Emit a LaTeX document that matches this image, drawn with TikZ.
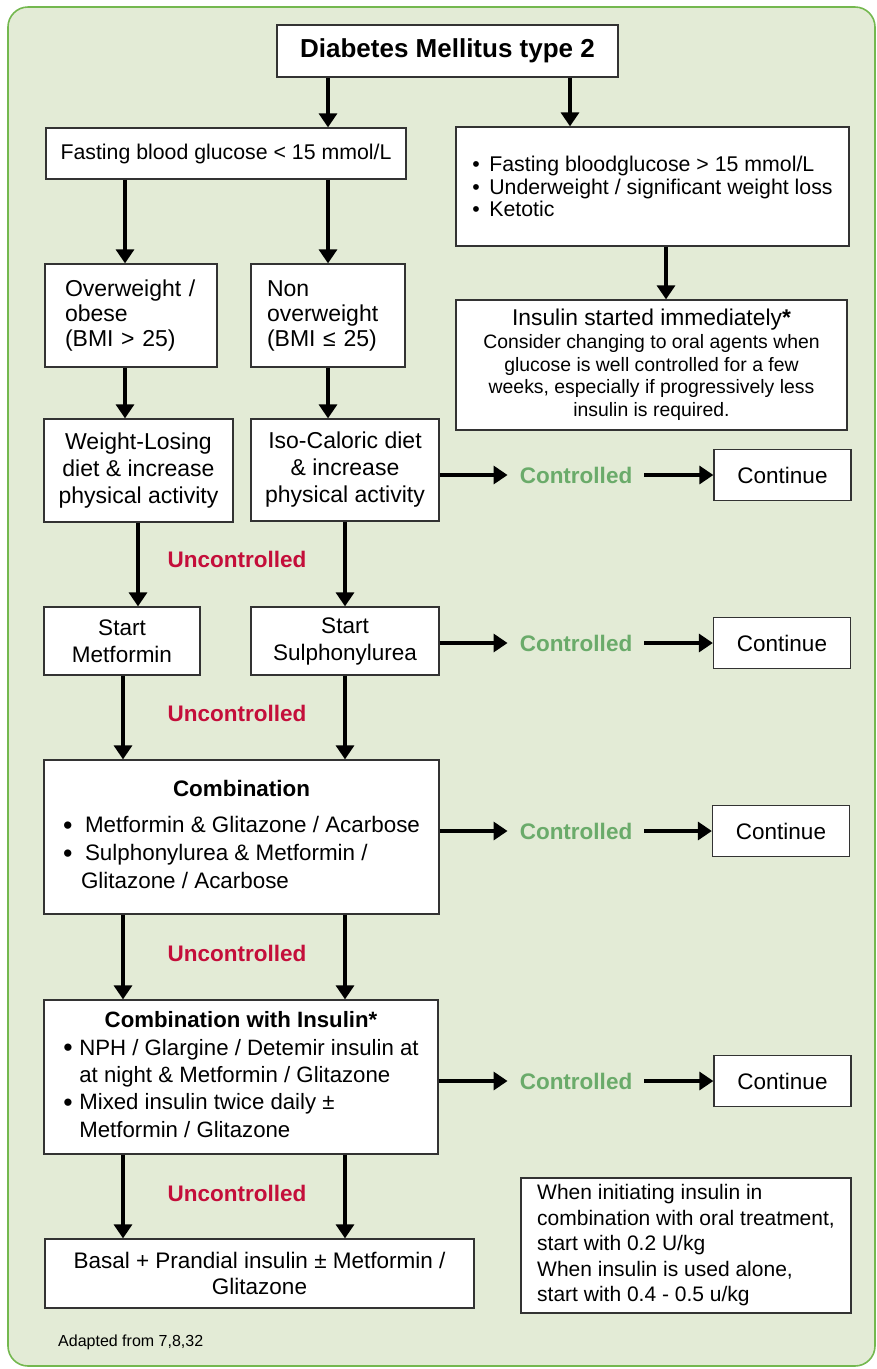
\documentclass[tikz,border=0pt]{standalone}
\usepackage{fontspec}
\setmainfont{Liberation Sans}
\usetikzlibrary{arrows.meta}

\definecolor{panelfill}{HTML}{E3EBD6}
\definecolor{panelline}{HTML}{74B84F}
\definecolor{ctlgreen}{HTML}{6AAB6A}
\definecolor{unctlred}{HTML}{C40E3A}

\newcommand{\fs}[2]{\fontsize{#1}{#2}\selectfont}
\newcommand{\bul}[1][19pt]{\makebox[#1][l]{\raisebox{-0.12ex}{\scalebox{1.2}{\textbullet}}}}
\newcommand{\sbul}[1][17pt]{\makebox[#1][l]{\textbullet}}

\tikzstyle{panel}=[draw=panelline, fill=panelfill, line width=1.6pt, rounded corners=20pt]
\tikzstyle{box}=[draw=black!80, line width=1.3pt, fill=white, inner sep=0pt, align=center, font=\fs{22.5}{27}]
\tikzstyle{lbox}=[box, align=left]
\tikzstyle{cont}=[box, minimum width=137pt, minimum height=51pt]
\tikzstyle{ctl}=[inner xsep=12pt, inner ysep=0pt, text=ctlgreen, font=\fs{22.5}{27}\bfseries]
\tikzstyle{unctl}=[inner sep=0pt, text=unctlred, font=\fs{22.5}{27}\bfseries]
\tikzstyle{arr}=[line width=3.3pt, -{Triangle[length=14pt, width=18pt]}]

\begin{document}
\begin{tikzpicture}[x=1pt, y=-1pt]
    \useasboundingbox (0,0) rectangle (877,1369);
    \draw[panel] (8,7) rectangle (875,1366);

    % columns of the vertical connectors
    \coordinate (xOver)   at (125,0);
    \coordinate (xLeft)   at (123,0);
    \coordinate (xWeight) at (138,0);
    \coordinate (xMid)    at (328,0);
    \coordinate (xRight)  at (345,0);
    \coordinate (xHigh)   at (570,0);
    \coordinate (xIns)    at (666,0);

    \node[box, minimum width=341pt, minimum height=52pt, font=\fs{26}{30}\bfseries] (title) at (447.5,51) {Diabetes Mellitus type 2};
    \node[box, minimum width=360pt, minimum height=51pt, font=\fs{21.3}{25}] (fbgLow) at (226,153.5) {Fasting blood glucose < 15 mmol/L};
    \node[lbox, minimum width=393pt, minimum height=119pt, font=\fs{21.3}{22.6}] (fbgHigh) at (652.5,186.5)
        {\sbul Fasting bloodglucose > 15 mmol/L\\ \sbul Underweight / significant weight loss\\ \sbul Ketotic};

    \node[lbox, minimum width=172pt, minimum height=103pt, text width=132pt, font=\fs{23}{25}] (over) at (131,315.5) {Overweight /\\obese\\(BMI > 25)};
    \node[lbox, minimum width=154pt, minimum height=103pt, text width=122pt, font=\fs{23}{25}] (nonover) at (328,315.5) {Non\\overweight\\(BMI ≤ 25)};
    \node[box, minimum width=391pt, minimum height=130pt, font=\fs{19.4}{22.7}] (insulin) at (651.5,365)
        {{\fs{22.8}{22.7}Insulin started immediately\textbf{*}}\\Consider changing to oral agents when\\glucose is well controlled for a few\\weeks, especially if progressively less\\insulin is required.};

    \node[box, minimum width=189pt, minimum height=103pt, font=\fs{23}{27}] (weight) at (138.5,470.5) {Weight-Losing\\diet \& increase\\physical activity};
    \node[box, minimum width=188pt, minimum height=102pt, font=\fs{23}{27}] (iso) at (345,470) {Iso-Caloric diet\\\& increase\\physical activity};
    \node[ctl] (ctlA) at (576,475) {Controlled};
    \node[cont] (contA) at (782.5,475) {Continue};
    \node[unctl] (uncA) at (237,559) {Uncontrolled};

    \node[box, minimum width=156pt, minimum height=68pt] (metf) at (122,641) {Start\\Metformin};
    \node[box, minimum width=188pt, minimum height=68pt] (sulph) at (345,641) {Start\\Sulphonylurea};
    \node[ctl] (ctlB) at (576,643) {Controlled};
    \node[cont] (contB) at (782,643) {Continue};
    \node[unctl] (uncB) at (237,713) {Uncontrolled};

    \node[box, minimum width=395pt, minimum height=154pt, font=\fs{22.4}{28}] (comb) at (241.5,837)
        {\begin{tabular}{@{}l@{}}
            \multicolumn{1}{c}{\textbf{Combination}}\\[8pt]
            \bul[22pt]Metformin \& Glitazone / Acarbose\\
            \bul[22pt]Sulphonylurea \& Metformin /\\
            \hspace*{18pt}Glitazone / Acarbose
        \end{tabular}};
    \node[ctl] (ctlC) at (576,831) {Controlled};
    \node[cont] (contC) at (781,831) {Continue};
    \node[unctl] (uncC) at (237,953) {Uncontrolled};

    \node[box, minimum width=394pt, minimum height=154pt, font=\fs{22.2}{27.3}] (combIns) at (241,1077)
        {\begin{tabular}{@{}l@{}}
            \multicolumn{1}{c}{\textbf{Combination with Insulin*}}\\
            \bul[16pt]NPH / Glargine / Detemir insulin at\\
            \hspace*{16pt}at night \& Metformin / Glitazone\\
            \bul[16pt]Mixed insulin twice daily ±\\
            \hspace*{16pt}Metformin / Glitazone
        \end{tabular}};
    \node[ctl] (ctlD) at (576,1081) {Controlled};
    \node[cont] (contD) at (782.5,1081) {Continue};
    \node[unctl] (uncD) at (237,1193) {Uncontrolled};

    \node[box, minimum width=429pt, minimum height=69pt, font=\fs{22.5}{26}] (basal) at (259.5,1273.5) {Basal + Prandial insulin ± Metformin /\\Glitazone};
    \node[lbox, minimum width=330pt, minimum height=135pt, font=\fs{21}{25.5}] (note) at (686,1245.5)
        {When initiating insulin in\\combination with oral treatment,\\start with 0.2 U/kg\\When insulin is used alone,\\start with 0.4 - 0.5 u/kg};
    \node[anchor=west, inner sep=0pt, font=\fs{16}{19}] (source) at (58,1342) {Adapted from 7,8,32};

    % vertical connectors
    \draw[arr] (title.south -| xMid) -- (fbgLow.north -| xMid);
    \draw[arr] (title.south -| xHigh) -- (fbgHigh.north -| xHigh);
    \draw[arr] (fbgLow.south -| xOver) -- (over.north -| xOver);
    \draw[arr] (fbgLow.south -| xMid) -- (nonover.north -| xMid);
    \draw[arr] (fbgHigh.south -| xIns) -- (insulin.north -| xIns);
    \draw[arr] (over.south -| xOver) -- (weight.north -| xOver);
    \draw[arr] (nonover.south -| xMid) -- (iso.north -| xMid);
    \draw[arr] (weight.south -| xWeight) -- (metf.north -| xWeight);
    \draw[arr] (iso.south -| xRight) -- (sulph.north -| xRight);
    \draw[arr] (metf.south -| xLeft) -- (comb.north -| xLeft);
    \draw[arr] (sulph.south -| xRight) -- (comb.north -| xRight);
    \draw[arr] (comb.south -| xLeft) -- (combIns.north -| xLeft);
    \draw[arr] (comb.south -| xRight) -- (combIns.north -| xRight);
    \draw[arr] (combIns.south -| xLeft) -- (basal.north -| xLeft);
    \draw[arr] (combIns.south -| xRight) -- (basal.north -| xRight);

    % controlled branches
    \foreach \prev/\n in {iso/A, sulph/B, comb/C, combIns/D} {
        \draw[arr] (\prev.east |- ctl\n) -- (ctl\n.west);
        \draw[arr] (ctl\n.east) -- (cont\n.west);
    }
\end{tikzpicture}
\end{document}
